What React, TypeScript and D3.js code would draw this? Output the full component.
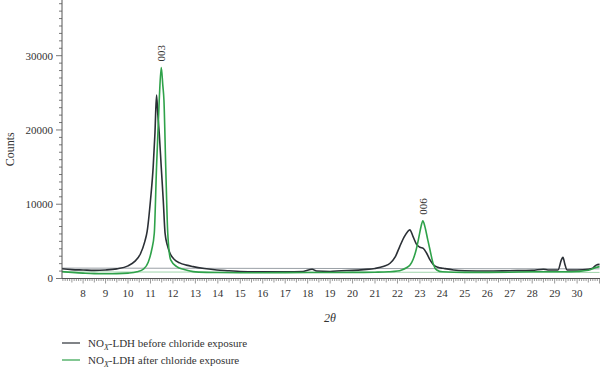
import React from "react";
import * as d3 from "d3";

// 2θ positions and counts
const beforeTheta = [
  7.06, 7.5, 8.0, 8.5, 9.0, 9.5, 10.0, 10.3, 10.55, 10.75, 10.85, 11.0, 11.12, 11.2, 11.27, 11.33,
  11.39, 11.48, 11.57, 11.65, 11.75, 11.87, 12.05, 12.3, 12.6, 12.9, 13.4, 13.95, 14.5, 15, 16, 17,
  17.8, 18.2, 18.4, 19, 19.5, 20, 20.5, 21, 21.4, 21.67, 21.9, 22.1, 22.3, 22.45, 22.55, 22.7, 22.85,
  23.0, 23.15, 23.3, 23.45, 23.6, 23.8, 24.04, 24.5, 25, 26, 27, 28, 28.5, 28.7, 29.15, 29.3, 29.37,
  29.45, 29.55, 30, 30.5, 30.7, 30.85, 31.0,
];
const beforeCounts = [
  1320, 1200, 1150, 1100, 1150, 1300, 1700, 2300, 3300, 5000, 6300, 10500, 15000, 19600, 24700, 22000,
  19600, 15000, 10500, 6100, 4500, 3400, 2600, 2100, 1800, 1600, 1350, 1150, 1050, 950, 900, 900,
  950, 1250, 1000, 950, 1050, 1100, 1200, 1350, 1650, 2050, 2900, 4300, 5600, 6300, 6550, 5600, 4600,
  4200, 4050, 3400, 2500, 1850, 1500, 1370, 1150, 1050, 1000, 1050, 1100, 1250, 1150, 1150, 2500, 2850,
  2000, 1150, 1150, 1250, 1400, 1800, 1900,
];

const afterTheta = [
  7.06, 7.5, 8, 8.5, 9, 9.5, 10, 10.4, 10.7, 10.9, 11.05, 11.17, 11.27, 11.39, 11.48, 11.55, 11.6,
  11.68, 11.77, 11.9, 12.17, 12.5, 12.9, 13.5, 14, 15, 16, 17, 18, 19, 20, 21, 21.6, 22.0, 22.19, 22.4,
  22.56, 22.7, 22.83, 22.95, 23.05, 23.13, 23.22, 23.35, 23.45, 23.6, 23.75, 24.0, 25, 26, 27, 28, 29,
  29.5, 30, 30.5, 30.85, 31,
];
const afterCounts = [
  920, 820, 720, 650, 640, 650, 720, 900, 1300, 2200, 3800, 6100, 15000, 24000, 28400, 26000, 24000,
  15000, 6100, 2500, 1600, 1200, 920, 820, 800, 780, 780, 790, 800, 800, 820, 850, 900, 1000, 1150, 1450,
  1820, 2600, 3840, 5500, 7000, 7780, 7000, 5200, 3840, 1900, 1150, 900, 830, 830, 850, 900, 900,
  900, 950, 1100, 1500, 1600,
];

// fitted backgrounds
const baseTheta = [7.06, 31.0];
const beforeBase = [1400, 1300];
const afterBase = [880, 820];

const peakLabels = ["003", "006"];
const peakTheta = [11.48, 23.13];
const peakCounts = [28400, 7780];

const yTicks = [0, 10000, 20000, 30000];
const xTicks = d3.range(8, 31);

const seriesNames = ["before chloride exposure", "after chloride exposure"];
const seriesColors = ["#2b3036", "#2fa24a"];

const W = 600;
const H = 371;
const left = 62;
const right = 600;
const top = 0;
const bottom = 278.5;
const font = "'Liberation Serif', 'DejaVu Serif', serif";

export default function App() {
  const x = d3.scaleLinear().domain([7.06, 31.02]).range([left, right]);
  const y = d3.scaleLinear().domain([0, 37500]).range([bottom, top]);

  const line = (ts: number[], cs: number[]) =>
    d3
      .line<number>()
      .x((_, i) => x(ts[i]))
      .y((c) => y(c))
      .curve(d3.curveMonotoneX)(cs) || "";

  const xMinor = d3.range(71, 311).map((v) => v / 10);
  const yMinor = d3.range(0, 38).map((v) => v * 1000);

  return (
    <svg
      width={W}
      height={H}
      style={{ position: "fixed", left: 0, top: 0, background: "#fff" }}
      fontFamily={font}
    >
      <defs>
        <clipPath id="plot">
          <rect x={left} y={top} width={right - left} height={bottom - top} />
        </clipPath>
      </defs>

      <g clipPath="url(#plot)">
        <path d={line(baseTheta, beforeBase)} fill="none" stroke="#9aa0a6" strokeWidth={1} />
        <path d={line(baseTheta, afterBase)} fill="none" stroke="#9fd4ab" strokeWidth={1} />
        <path d={line(beforeTheta, beforeCounts)} fill="none" stroke={seriesColors[0]} strokeWidth={1.6} />
        <path d={line(afterTheta, afterCounts)} fill="none" stroke={seriesColors[1]} strokeWidth={1.6} />
      </g>

      {/* y axis */}
      <line x1={left} x2={left} y1={top} y2={bottom} stroke="#555" />
      {yMinor.map((v) => (
        <line
          key={"ym" + v}
          x1={left}
          x2={left - (v % 10000 === 0 ? 6 : 3)}
          y1={y(v)}
          y2={y(v)}
          stroke="#555"
          strokeWidth={0.8}
        />
      ))}
      {yTicks.map((v) => (
        <text key={"yt" + v} x={left - 9} y={y(v)} dy="0.35em" textAnchor="end" fontSize={11} fill="#333">
          {v}
        </text>
      ))}

      {/* x axis */}
      <line x1={left} x2={right} y1={bottom} y2={bottom} stroke="#555" />
      {xMinor.map((v) => {
        const major = Math.abs(v - Math.round(v)) < 1e-6;
        const half = Math.abs(v * 2 - Math.round(v * 2)) < 1e-6;
        return (
          <line
            key={"xm" + v}
            x1={x(v)}
            x2={x(v)}
            y1={bottom}
            y2={bottom + (major ? 5 : half ? 4 : 2.5)}
            stroke="#555"
            strokeWidth={0.6}
          />
        );
      })}
      {xTicks.map((v) => (
        <text key={"xt" + v} x={x(v)} y={bottom + 18} textAnchor="middle" fontSize={11} fill="#333">
          {v}
        </text>
      ))}

      <text
        transform={`translate(14,${(top + bottom) / 2 + 10}) rotate(-90)`}
        textAnchor="middle"
        fontSize={12}
        fill="#333"
      >
        Counts
      </text>
      <text x={330} y={322} textAnchor="middle" fontSize={12} fill="#333" fontStyle="italic">
        2θ
      </text>

      {peakLabels.map((lab, i) => (
        <text
          key={lab}
          transform={`translate(${x(peakTheta[i]) + 4},${y(peakCounts[i]) - 6}) rotate(-90)`}
          fontSize={11}
          fill="#333"
        >
          {lab}
        </text>
      ))}

      {seriesNames.map((name, i) => (
        <g key={name} transform={`translate(62,${343 + i * 17})`}>
          <line x1={0} x2={18} y1={0} y2={0} stroke={seriesColors[i]} strokeWidth={1.2} />
          <text x={26} y={4} fontSize={11} fill="#333">
            NO
            <tspan fontSize={8} dy={3} fontStyle="italic">
              X
            </tspan>
            <tspan dy={-3}>-LDH {name}</tspan>
          </text>
        </g>
      ))}
    </svg>
  );
}
